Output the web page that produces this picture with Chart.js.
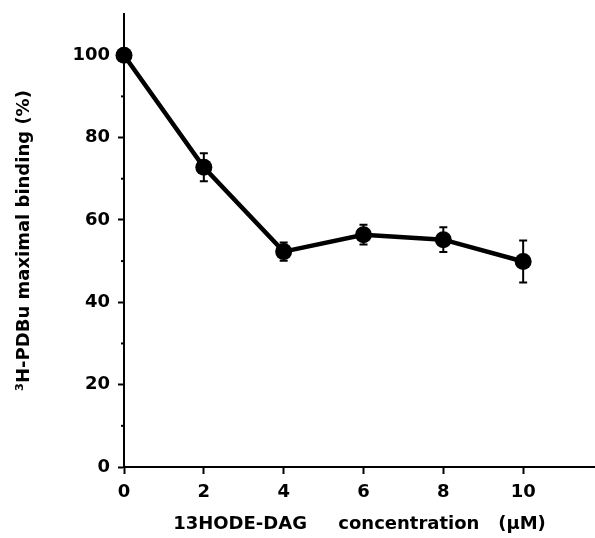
<!DOCTYPE html>
<html>
<head>
<meta charset="utf-8">
<script src="https://cdn.jsdelivr.net/npm/chart.js@4"></script>
<style>
  html, body { margin: 0; padding: 0; background: #fff; }
</style>
</head>
<body>
<canvas id="chart" width="595" height="538"></canvas>
<script>
const concentrations = [0, 2, 4, 6, 8, 10];
const binding = [100, 72.8, 52.3, 56.4, 55.2, 49.9];
const errors = [0, 3.4, 2.2, 2.4, 3.0, 5.1];
const yTicks = [0, 20, 40, 60, 80, 100];

const font = { family: '"DejaVu Sans", sans-serif', weight: 'bold', size: 18 };

// error bars + minor y ticks
const errorBars = {
    id: 'errorBars',
    afterDatasetsDraw(chart) {
        const ctx = chart.ctx;
        const x = chart.scales.x, y = chart.scales.y;
        ctx.save();
        ctx.strokeStyle = '#000';
        ctx.lineWidth = 2;
        concentrations.forEach((c, i) => {
            if (!errors[i]) return;
            const px = x.getPixelForValue(c);
            const top = y.getPixelForValue(binding[i] + errors[i]);
            const bot = y.getPixelForValue(binding[i] - errors[i]);
            ctx.beginPath();
            ctx.moveTo(px, top); ctx.lineTo(px, bot);
            ctx.moveTo(px - 4, top); ctx.lineTo(px + 4, top);
            ctx.moveTo(px - 4, bot); ctx.lineTo(px + 4, bot);
            ctx.stroke();
        });
        const left = chart.chartArea.left;
        for (let v = 10; v < 110; v += 20) {
            const py = y.getPixelForValue(v);
            ctx.beginPath();
            ctx.moveTo(left - 3, py); ctx.lineTo(left, py);
            ctx.stroke();
        }
        ctx.restore();
    }
};

new Chart(document.getElementById('chart'), {
    type: 'scatter',
    data: {
        datasets: [{
            data: concentrations.map((c, i) => ({ x: c, y: binding[i] })),
            showLine: true,
            borderColor: '#000',
            borderWidth: 4.5,
            backgroundColor: '#000',
            pointRadius: 8.5,
            pointBorderWidth: 0,
            clip: false
        }]
    },
    options: {
        responsive: false,
        animation: false,
        layout: { autoPadding: false, padding: { top: 14, right: 0, left: 0, bottom: 0 } },
        plugins: { legend: { display: false }, tooltip: { enabled: false } },
        scales: {
            x: {
                type: 'linear',
                min: 0,
                max: 11.8,
                afterFit: s => { s.height = 71; s.paddingLeft = 0; s.paddingRight = 0; },
                border: { display: true, color: '#000', width: 2 },
                grid: { drawOnChartArea: false, drawTicks: true, tickLength: 7, color: '#000', tickWidth: 2 },
                ticks: { stepSize: 2, includeBounds: false, color: '#000', font: font, padding: 8, maxRotation: 0 },
                title: {
                    display: true,
                    text: '13HODE-DAG     concentration   (\u03bcM)',
                    color: '#000',
                    font: font,
                    padding: { top: 0, bottom: 3 }
                }
            },
            y: {
                min: 0,
                max: 110,
                afterFit: s => { s.width = 124; s.paddingTop = 0; s.paddingBottom = 0; },
                afterBuildTicks: s => { s.ticks = yTicks.map(v => ({ value: v })); },
                border: { display: true, color: '#000', width: 2 },
                grid: { drawOnChartArea: false, drawTicks: true, tickLength: 6, color: '#000', tickWidth: 2 },
                ticks: { color: '#000', font: font, padding: 8 },
                title: {
                    display: true,
                    text: '\u00b3H-PDBu maximal binding (%)',
                    color: '#000',
                    font: font,
                    padding: { top: 14, bottom: 0 }
                }
            }
        }
    },
    plugins: [errorBars]
});
</script>
</body>
</html>
